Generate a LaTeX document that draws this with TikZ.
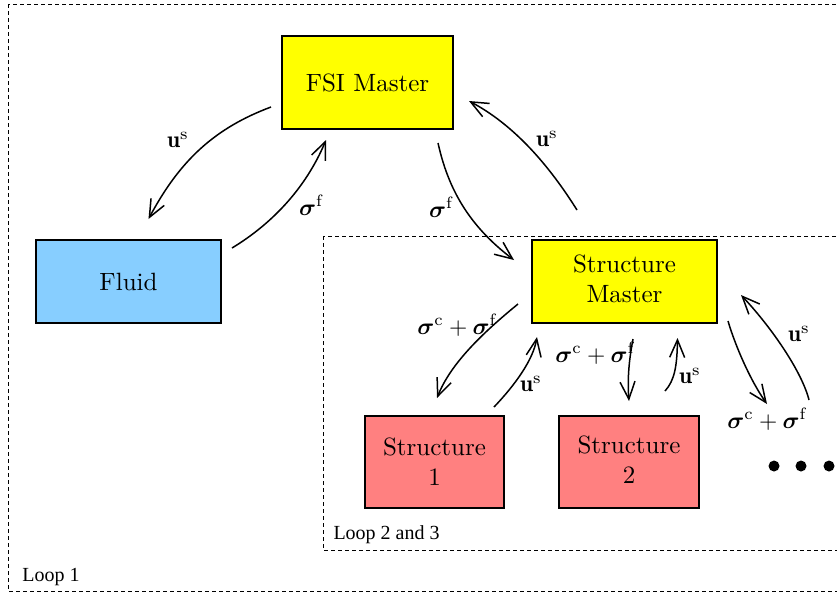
\documentclass[tikz,border=0pt]{standalone}
\usepackage{amsmath,amssymb,bm}
\usepackage{fontspec}
\newfontfamily\loopfont{Liberation Serif}
\usetikzlibrary{arrows.meta,calc}
\definecolor{fluidblue}{RGB}{135,206,255}
\definecolor{structred}{RGB}{255,128,128}
\definecolor{pureyellow}{RGB}{255,255,0}
\tikzset{
  box/.style={draw=black, line width=0.8pt, minimum width=#1, align=center, inner sep=0pt},
  flow/.style={line width=0.6pt, -{Straight Barb[length=7pt,width=6pt,line width=0.6pt]}},
  lbl/.style={inner sep=0pt, scale=0.94},
  loopbox/.style={draw=black, line width=0.4pt, dash pattern=on 1.6pt off 1.2pt},
  looplbl/.style={font=\loopfont\fontsize{8}{9.6}\selectfont, inner sep=0pt, anchor=west},
  dot/.style={circle, fill=black, inner sep=0pt, minimum size=4.4pt}
}
\newcommand{\myus}{$\mathbf{u}^{\mathrm{s}}$}
\newcommand{\mysf}{$\boldsymbol{\sigma}^{\mathrm{f}}$}
\newcommand{\myscf}{$\boldsymbol{\sigma}^{\mathrm{c}}+\boldsymbol{\sigma}^{\mathrm{f}}$}
\begin{document}
\begin{tikzpicture}[x=0.4pt,y=-0.4pt]
\useasboundingbox (0,0) rectangle (837,595);
% loop frames
\draw[loopbox] (8,4) rectangle (850,591);
\draw[loopbox] (323,236) rectangle (850,550);
\node[looplbl] (loop1) at (22,577) {Loop 1};
\node[looplbl] (loop2) at (333,535) {Loop 2 and 3};
% boxes
\node[box=68.4pt, minimum height=37.2pt, fill=pureyellow] (fsi) at (367.5,82.5) {FSI Master};
\node[box=74pt, minimum height=33.2pt, fill=fluidblue] (fluid) at (128.5,281.5) {Fluid};
\node[box=74pt, minimum height=33.2pt, fill=pureyellow] (sm) at (624.5,281.5) {\raisebox{1.2pt}{\begin{tabular}{@{}c@{}}Structure\\Master\end{tabular}}};
\node[box=55.6pt, minimum height=36.8pt, fill=structred] (s1) at (434.5,462) {Structure\\1};
\node[box=56pt, minimum height=36.8pt, fill=structred] (s2) at (629,462) {\raisebox{1.2pt}{\begin{tabular}{@{}c@{}}Structure\\2\end{tabular}}};
\node[dot] (d1) at (774,466) {};
\node[dot] (d2) at (801,466) {};
\node[dot] (d3) at (829,466) {};
% arrows
\draw[flow] ($(fsi.south west)+(-10,-23)$) .. controls (215,128) and (180,160) .. ($(fluid.north)+(20,-20)$);
\draw[flow] ($(fluid.north east)+(10,9)$) .. controls (270,225) and (305,190) .. ($(fsi.south west)+(45,10)$);
\draw[flow] ($(fsi.south east)+(-16,13)$) .. controls (448,188) and (468,225) .. ($(sm.north west)+(-17,21)$);
\draw[flow] ($(sm.north west)+(46,-29)$) .. controls (555,175) and (520,128) .. ($(fsi.north east)+(15,66)$);
\draw[flow] ($(sm.south west)+(-13,-20)$) .. controls (480,335) and (450,365) .. ($(s1.north)+(2.5,-17)$);
\draw[flow] ($(s1.north east)+(-11,-8)$) .. controls (515,385) and (533,360) .. ($(sm.south west)+(6,13)$);
\draw[flow] ($(sm.south)+(8.5,15)$) .. controls (630,355) and (627,375) .. ($(s2.north)+(0,-14)$);
\draw[flow] ($(s2.north)+(36,-24)$) .. controls (675,380) and (677,365) .. ($(sm.south)+(53,14)$);
\draw[flow] ($(sm.south east)+(10,-3)$) .. controls (735,345) and (750,380) .. ($(d1.north)+(-7,-56)$);
\draw[flow] ($(d3.north)+(-20,-60)$) .. controls (802,372) and (772,328) .. ($(sm.north east)+(23,56)$);
% labels
\node[lbl] (l1) at (178,140) {\myus};
\node[lbl] (l2) at (311,205) {\mysf};
\node[lbl] (l3) at (441,207) {\mysf};
\node[lbl] (l4) at (547,139) {\myus};
\node[lbl] (l5) at (457,325) {\myscf};
\node[lbl] (l6) at (531,384) {\myus};
\node[lbl] (l7) at (595,353) {\myscf};
\node[lbl] (l8) at (690,376) {\myus};
\node[lbl] (l9) at (767,419) {\myscf};
\node[lbl] (l10) at (799,334) {\myus};
\end{tikzpicture}
\end{document}
